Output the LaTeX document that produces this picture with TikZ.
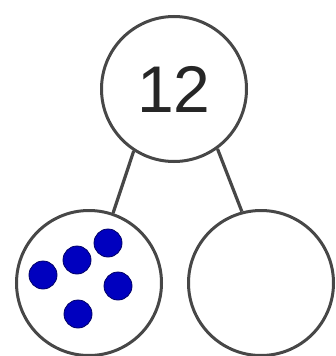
\documentclass[tikz,border=0pt]{standalone}
\usepackage{fontspec}
\setmainfont{Liberation Sans}
\usepackage{tikz}
\usetikzlibrary{positioning,calc}

\begin{document}
\begin{tikzpicture}[
    x=1pt, y=-1pt,
    bond/.style={circle, draw=black!72, line width=3pt, minimum size=145pt, inner sep=0pt, fill=white},
    counter/.style={circle, fill=blue!75!black, draw=blue!40!black, line width=0.8pt, minimum size=28pt, inner sep=0pt},
    link/.style={draw=black!72, line width=3.2pt}
]
\useasboundingbox (0,0) rectangle (335,356);

% ── Whole ──
\node[bond, font=\fontsize{66}{66}\selectfont, text=black!85] (whole) at (174,89) {12};

% ── Parts ──
\node[bond] (partA) at (89,283) {};
\node[bond] (partB) at (261,283) {};

% ── Counters in first part ──
\foreach \name/\px/\py in {c1/43/275, c2/77/260, c3/108/243, c4/118/286, c5/78/314}
  \node[counter] (\name) at (\px,\py) {};

% ── Links ──
\draw[link] (whole.237) -- (partA.71);
\draw[link] (whole.306) -- (partB.105);

\end{tikzpicture}
\end{document}
